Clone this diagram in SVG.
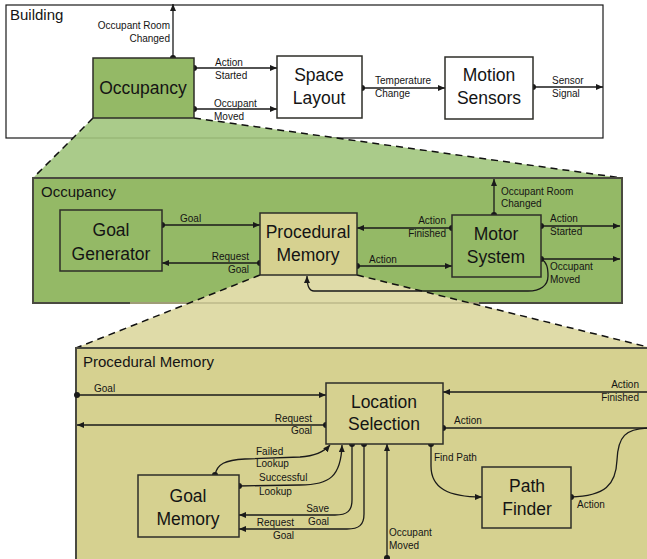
<svg xmlns="http://www.w3.org/2000/svg" width="647" height="559" viewBox="0 0 647 559">
<defs>
<marker id="ah" markerUnits="userSpaceOnUse" markerWidth="8" markerHeight="6" refX="7" refY="3" orient="auto"><path d="M0,0 L7,3 L0,6 z" fill="#1a1a1a"/></marker>
<style>
.box{stroke:#2e2e28;stroke-width:1.5}
.green{fill:#94b966}
.tan{fill:#d6d190}
.cont{stroke:#4a4a40;stroke-width:2}
.nt{font-family:"Liberation Sans",Arial,sans-serif;font-size:17.5px;fill:#141414;text-anchor:middle}
.ct{font-family:"Liberation Sans",Arial,sans-serif;font-size:15px;fill:#141414}
.lb{font-family:"Liberation Sans",Arial,sans-serif;font-size:10px;fill:#141414}
.e{text-anchor:end}
.ln{fill:none;stroke:#1a1a1a;stroke-width:1.3}
.ar{marker-end:url(#ah)}
.dot{fill:#1a1a1a}
.dash{fill:none;stroke:#111;stroke-width:1.5;stroke-dasharray:7,5}
</style>
</defs>
<rect width="647" height="559" fill="#ffffff"/>
<g id="building">
<rect x="6" y="5" width="597" height="133" fill="#ffffff" stroke="#1a1a1a" stroke-width="1.2"/>
<text class="ct" x="10" y="20">Building</text>
</g>
<g id="zoom-occupancy">
<polygon points="93,118 194,118 622,178 33,178" fill="#aacb8a"/>
<line x1="73" y1="138" x2="337" y2="138" stroke="#8fb06e" stroke-width="1.2"/>
<line class="dash" x1="93" y1="118" x2="33" y2="178"/>
<line class="dash" x1="194" y1="118" x2="622" y2="178"/>
</g>
<g id="occupancy-container">
<rect class="green cont" x="33" y="178" width="589" height="125"/>
<text class="ct" x="41" y="197">Occupancy</text>
</g>
<g id="zoom-procedural">
<polygon points="260,275 357,275 660,350 660,348 76,348" fill="#dfdba8"/>
<line x1="130" y1="303" x2="479" y2="303" stroke="#bdb98a" stroke-width="1.5"/>
<line class="dash" x1="260" y1="275" x2="76" y2="348"/>
<line class="dash" x1="357" y1="275" x2="660" y2="350"/>
</g>
<g id="procedural-container">
<rect class="tan cont" x="76" y="348" width="580" height="220"/>
<text class="ct" x="83" y="367">Procedural Memory</text>
</g>
<g id="connectors">
<!-- building -->
<circle class="dot" cx="173" cy="58" r="3"/>
<line class="ln ar" x1="173" y1="58" x2="173" y2="4"/>
<text class="lb e" x="170" y="29">Occupant Room</text>
<text class="lb e" x="170" y="42">Changed</text>
<circle class="dot" cx="194" cy="68" r="3"/>
<line class="ln ar" x1="194" y1="68" x2="277" y2="68"/>
<text class="lb" x="215" y="65.5">Action</text>
<text class="lb" x="215" y="78.5">Started</text>
<circle class="dot" cx="194" cy="109" r="3"/>
<line class="ln ar" x1="194" y1="109" x2="277" y2="109"/>
<text class="lb" x="214" y="107">Occupant</text>
<text class="lb" x="214" y="120">Moved</text>
<circle class="dot" cx="362" cy="88" r="3"/>
<line class="ln ar" x1="362" y1="88" x2="445" y2="88"/>
<text class="lb" x="375" y="84">Temperature</text>
<text class="lb" x="375" y="96.5">Change</text>
<circle class="dot" cx="533" cy="87" r="3"/>
<line class="ln ar" x1="533" y1="87" x2="603" y2="87"/>
<text class="lb" x="552" y="84">Sensor</text>
<text class="lb" x="552" y="97">Signal</text>
<!-- occupancy -->
<circle class="dot" cx="162" cy="225" r="3"/>
<line class="ln ar" x1="162" y1="225" x2="260" y2="225"/>
<text class="lb" x="180" y="221.5">Goal</text>
<circle class="dot" cx="260" cy="263" r="3"/>
<line class="ln ar" x1="260" y1="263" x2="162" y2="263"/>
<text class="lb e" x="249" y="259.5">Request</text>
<text class="lb e" x="249" y="272.5">Goal</text>
<circle class="dot" cx="452" cy="228" r="3"/>
<line class="ln ar" x1="452" y1="228" x2="357" y2="228"/>
<text class="lb e" x="446" y="223.5">Action</text>
<text class="lb e" x="446" y="236.5">Finished</text>
<circle class="dot" cx="357" cy="266" r="3"/>
<line class="ln ar" x1="357" y1="266" x2="452" y2="266"/>
<text class="lb" x="369" y="262.5">Action</text>
<circle class="dot" cx="494" cy="215" r="3"/>
<line class="ln ar" x1="494" y1="215" x2="494" y2="179"/>
<text class="lb" x="501" y="194.5">Occupant Room</text>
<text class="lb" x="501" y="206.5">Changed</text>
<circle class="dot" cx="541" cy="226" r="3"/>
<line class="ln ar" x1="541" y1="226" x2="620" y2="226"/>
<text class="lb" x="550" y="221.5">Action</text>
<text class="lb" x="550" y="234.5">Started</text>
<circle class="dot" cx="541" cy="259" r="3"/>
<line class="ln ar" x1="541" y1="259" x2="620" y2="259"/>
<text class="lb" x="550" y="269.5">Occupant</text>
<text class="lb" x="550" y="282.5">Moved</text>
<path class="ln ar" d="M541,259 C547,262 548,268 548,276 C548,286 540,291 528,291 L314,291 C309,291 307,286 307,276"/>
<!-- procedural memory -->
<circle class="dot" cx="77" cy="395" r="3"/>
<line class="ln ar" x1="77" y1="395" x2="326" y2="395"/>
<text class="lb" x="94" y="391.5">Goal</text>
<circle class="dot" cx="326" cy="425" r="3"/>
<line class="ln ar" x1="326" y1="425" x2="77" y2="425"/>
<text class="lb e" x="312" y="421.5">Request</text>
<text class="lb e" x="312" y="434">Goal</text>
<line class="ln ar" x1="650" y1="392" x2="443" y2="392"/>
<text class="lb e" x="639" y="387.5">Action</text>
<text class="lb e" x="639" y="400.5">Finished</text>
<circle class="dot" cx="443" cy="428" r="3"/>
<line class="ln" x1="443" y1="428" x2="650" y2="428"/>
<text class="lb" x="454" y="423.5">Action</text>
<circle class="dot" cx="431" cy="444" r="3"/>
<path class="ln ar" d="M431,444 L431,466 C431,488 448,497 482,497"/>
<text class="lb" x="434" y="460.5">Find Path</text>
<circle class="dot" cx="571" cy="497" r="3"/>
<path class="ln" d="M571,497 C605,496 616,485 617,460 C618,437 625,428 650,428"/>
<text class="lb" x="577" y="507.5">Action</text>
<circle class="dot" cx="387" cy="558" r="3"/>
<line class="ln ar" x1="387" y1="558" x2="387" y2="444"/>
<text class="lb" x="389" y="535.5">Occupant</text>
<text class="lb" x="389" y="548.5">Moved</text>
<circle class="dot" cx="215" cy="475" r="3"/>
<path class="ln ar" d="M215,475 C217,464 225,460 245,459 L300,457 C315,456 324,452 330,445"/>
<text class="lb" x="256" y="454.5">Failed</text>
<text class="lb" x="256" y="466.5">Lookup</text>
<circle class="dot" cx="239" cy="486" r="3"/>
<path class="ln ar" d="M239,486 L300,485 C330,485 341,476 342,445"/>
<text class="lb" x="259" y="480.5">Successful</text>
<text class="lb" x="259" y="494.5">Lookup</text>
<circle class="dot" cx="352" cy="444" r="3"/>
<path class="ln ar" d="M352,444 L352,500 C352,511 347,515 335,515 L239,515"/>
<text class="lb e" x="329" y="511.5">Save</text>
<text class="lb e" x="329" y="524.5">Goal</text>
<circle class="dot" cx="364" cy="444" r="3"/>
<path class="ln ar" d="M364,444 L364,514 C364,525 359,529 347,529 L239,529"/>
<text class="lb e" x="294" y="525.5">Request</text>
<text class="lb e" x="294" y="538.5">Goal</text>
</g>
<g id="occupancy">
<rect class="box green" x="93" y="58" width="101" height="60"/>
<text class="nt" x="143" y="94">Occupancy</text>
</g>
<g id="space-layout">
<rect class="box" fill="#ffffff" x="277" y="56" width="85" height="62"/>
<text class="nt" x="319" y="81">Space</text>
<text class="nt" x="319" y="104">Layout</text>
</g>
<g id="motion-sensors">
<rect class="box" fill="#ffffff" x="445" y="57" width="88" height="62"/>
<text class="nt" x="489" y="81">Motion</text>
<text class="nt" x="489" y="104">Sensors</text>
</g>
<g id="goal-generator">
<rect class="box green" x="60" y="210" width="102" height="61"/>
<text class="nt" x="111" y="236">Goal</text>
<text class="nt" x="111" y="260">Generator</text>
</g>
<g id="procedural-memory">
<rect class="box tan" x="260" y="213" width="97" height="62"/>
<text class="nt" x="308" y="238">Procedural</text>
<text class="nt" x="308" y="261">Memory</text>
</g>
<g id="motor-system">
<rect class="box green" x="452" y="215" width="89" height="62"/>
<text class="nt" x="496" y="240">Motor</text>
<text class="nt" x="496" y="263">System</text>
</g>
<g id="location-selection">
<rect class="box tan" x="326" y="383" width="117" height="61"/>
<text class="nt" x="384" y="408">Location</text>
<text class="nt" x="384" y="430">Selection</text>
</g>
<g id="path-finder">
<rect class="box tan" x="482" y="467" width="89" height="61"/>
<text class="nt" x="527" y="492">Path</text>
<text class="nt" x="527" y="515">Finder</text>
</g>
<g id="goal-memory">
<rect class="box tan" x="138" y="475" width="101" height="62"/>
<text class="nt" x="188" y="502">Goal</text>
<text class="nt" x="188" y="525">Memory</text>
</g>
</svg>
